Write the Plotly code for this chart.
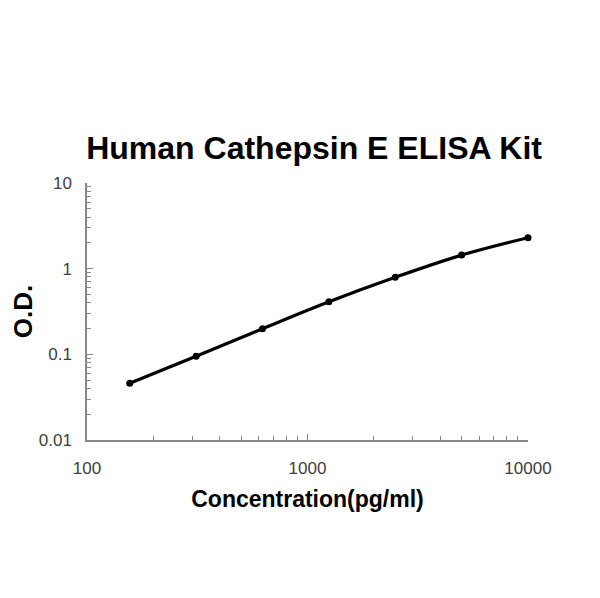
import plotly.graph_objects as go

# standard curve readings
conc = [156.25, 312.5, 625, 1250, 2500, 5000, 10000]
od = [0.046, 0.095, 0.199, 0.411, 0.794, 1.44, 2.30]

y_ticks = [0.01, 0.1, 1, 10]
y_ticktext = ["0.01", "0.1", "1", "10"]
x_ticks = [100, 1000, 10000]
x_ticktext = ["100", "1000", "10000"]

fig = go.Figure(
    go.Scatter(
        x=conc,
        y=od,
        mode="lines+markers",
        line=dict(color="black", width=3.2, shape="spline"),
        marker=dict(color="black", size=7),
        cliponaxis=False,
        showlegend=False,
    )
)

axis_style = dict(
    type="log",
    showgrid=False,
    zeroline=False,
    showline=True,
    linecolor="#888888",
    linewidth=1.5,
    ticks="inside",
    ticklen=6,
    tickcolor="#888888",
    tickfont=dict(family="Liberation Sans, Arial", size=17, color="#404040"),
    minor=dict(ticks="inside", ticklen=4, dtick="D1", tickcolor="#888888", showgrid=False),
)

# page body adds an 8px margin, so the figure is 8px smaller than the window
fig.update_layout(
    width=592,
    height=590,
    plot_bgcolor="white",
    paper_bgcolor="white",
    margin=dict(l=79, r=72, t=175, b=158),
    title=dict(
        text="<b>Human Cathepsin E ELISA Kit</b>",
        x=0.517, xanchor="center",
        y=1 - 140 / 590, yanchor="middle", yref="container",
        font=dict(family="Liberation Sans, Arial", size=32, color="black"),
    ),
    xaxis=dict(
        axis_style,
        range=[2, 4],
        tickvals=x_ticks,
        ticktext=x_ticktext,
        ticklabelstandoff=12,
        title=dict(text="<b>Concentration(pg/ml)</b>", standoff=14,
                   font=dict(family="Liberation Sans, Arial", size=23, color="black")),
    ),
    yaxis=dict(
        axis_style,
        range=[-2, 1],
        tickvals=y_ticks,
        ticktext=y_ticktext,
        ticklabelstandoff=10,
        title=dict(text="<b>O.D.</b>", standoff=0,
                   font=dict(family="Liberation Sans, Arial", size=26, color="black")),
    ),
)

fig.write_html("out.html")
